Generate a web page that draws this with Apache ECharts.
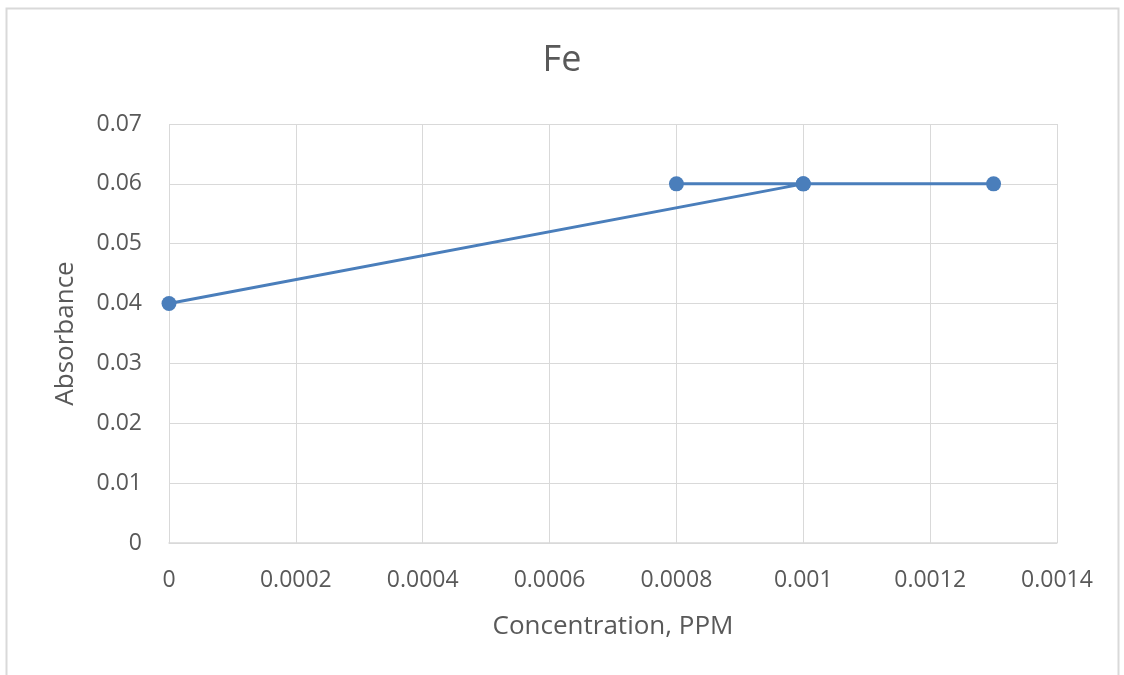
<!DOCTYPE html>
<html>
<head>
<meta charset="utf-8">
<script src="https://cdn.jsdelivr.net/npm/echarts@6/dist/echarts.min.js"></script>
<style>
  html, body { margin: 0; padding: 0; background: #ffffff; }
  #chart { width: 1124px; height: 675px; }
</style>
</head>
<body>
<div id="chart"></div>
<script>
// Fe calibration: concentration (PPM) vs absorbance, in measurement order
const concentration = [0, 0.001, 0.0008, 0.001, 0.0013];
const absorbance = [0.04, 0.06, 0.06, 0.06, 0.06];
const xTicks = [0, 0.0002, 0.0004, 0.0006, 0.0008, 0.001, 0.0012, 0.0014];
const yTicks = [0, 0.01, 0.02, 0.03, 0.04, 0.05, 0.06, 0.07];

const points = concentration.map((c, i) => [c, absorbance[i]]);
const font = '"Open Sans", "Noto Sans", sans-serif';
const textColor = '#595959';
const gridColor = '#d9d9d9';

const chart = echarts.init(document.getElementById('chart'), null, { renderer: 'canvas' });
chart.setOption({
  backgroundColor: '#ffffff',
  animation: false,
  title: {
    text: 'Fe',
    left: 'center',
    top: 38,
    textStyle: { fontFamily: font, fontSize: 36, fontWeight: 'normal', color: textColor }
  },
  graphic: [{
    type: 'rect',
    shape: { x: 6.5, y: 8.5, width: 1112, height: 700 },
    style: { fill: 'none', stroke: gridColor, lineWidth: 2 },
    silent: true
  }],
  grid: { left: 169, right: 67, top: 124, bottom: 132 },
  xAxis: {
    type: 'value',
    min: xTicks[0],
    max: xTicks[xTicks.length - 1],
    interval: 0.0002,
    name: 'Concentration, PPM',
    nameLocation: 'middle',
    nameGap: 71,
    nameTextStyle: { fontFamily: font, fontSize: 26, color: textColor },
    axisLine: { show: true, lineStyle: { color: gridColor, width: 1.5 } },
    axisTick: { show: false },
    splitLine: { show: true, lineStyle: { color: gridColor, width: 1 } },
    axisLabel: {
      fontFamily: font, fontSize: 23, color: textColor, margin: 26,
      formatter: v => String(parseFloat(v.toFixed(6)))
    }
  },
  yAxis: {
    type: 'value',
    min: yTicks[0],
    max: yTicks[yTicks.length - 1],
    interval: 0.01,
    name: 'Absorbance',
    nameLocation: 'middle',
    nameGap: 90,
    nameTextStyle: { fontFamily: font, fontSize: 26, color: textColor },
    axisLine: { show: false },
    axisTick: { show: false },
    splitLine: { show: true, lineStyle: { color: gridColor, width: 1 } },
    axisLabel: {
      fontFamily: font, fontSize: 23, color: textColor, margin: 27,
      formatter: v => String(parseFloat(v.toFixed(4)))
    }
  },
  series: [{
    type: 'line',
    data: points,
    smooth: 0.6,
    symbol: 'circle',
    symbolSize: 15,
    lineStyle: { color: '#4a7ebb', width: 3 },
    itemStyle: { color: '#4a7ebb' },
    z: 3
  }]
});
</script>
</body>
</html>
